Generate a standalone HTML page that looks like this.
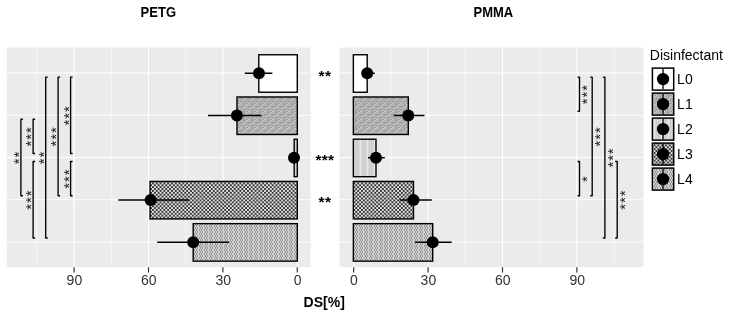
<!DOCTYPE html><html><head><meta charset="utf-8"><style>html,body{margin:0;padding:0;background:#fff;}svg{display:block;will-change:transform;}text{font-family:"Liberation Sans",sans-serif;}</style></head><body>
<svg width="729" height="315" viewBox="0 0 729 315">
<defs>
<pattern id="p1" width="8" height="8" patternUnits="userSpaceOnUse"><rect x="0" y="0" width="1" height="1" fill="#ababab"/><rect x="1" y="0" width="1" height="1" fill="#bbbbbb"/><rect x="2" y="0" width="1" height="1" fill="#acacac"/><rect x="3" y="0" width="1" height="1" fill="#aaaaaa"/><rect x="4" y="0" width="1" height="1" fill="#9e9e9e"/><rect x="5" y="0" width="1" height="1" fill="#acacac"/><rect x="6" y="0" width="1" height="1" fill="#c7c7c7"/><rect x="7" y="0" width="1" height="1" fill="#b9b9b9"/><rect x="0" y="1" width="1" height="1" fill="#c5c5c5"/><rect x="1" y="1" width="1" height="1" fill="#b5b5b5"/><rect x="2" y="1" width="1" height="1" fill="#b8b8b8"/><rect x="3" y="1" width="1" height="1" fill="#b4b4b4"/><rect x="4" y="1" width="1" height="1" fill="#8f8f8f"/><rect x="5" y="1" width="1" height="1" fill="#c2c2c2"/><rect x="6" y="1" width="1" height="1" fill="#bbbbbb"/><rect x="7" y="1" width="1" height="1" fill="#bababa"/><rect x="0" y="2" width="1" height="1" fill="#8f8f8f"/><rect x="1" y="2" width="1" height="1" fill="#8e8e8e"/><rect x="2" y="2" width="1" height="1" fill="#9f9f9f"/><rect x="3" y="2" width="1" height="1" fill="#a7a7a7"/><rect x="4" y="2" width="1" height="1" fill="#b7b7b7"/><rect x="5" y="2" width="1" height="1" fill="#b0b0b0"/><rect x="6" y="2" width="1" height="1" fill="#bbbbbb"/><rect x="7" y="2" width="1" height="1" fill="#a4a4a4"/><rect x="0" y="3" width="1" height="1" fill="#b7b7b7"/><rect x="1" y="3" width="1" height="1" fill="#b8b8b8"/><rect x="2" y="3" width="1" height="1" fill="#a3a3a3"/><rect x="3" y="3" width="1" height="1" fill="#d3d3d3"/><rect x="4" y="3" width="1" height="1" fill="#bcbcbc"/><rect x="5" y="3" width="1" height="1" fill="#c8c8c8"/><rect x="6" y="3" width="1" height="1" fill="#a4a4a4"/><rect x="7" y="3" width="1" height="1" fill="#a2a2a2"/><rect x="0" y="4" width="1" height="1" fill="#aaaaaa"/><rect x="1" y="4" width="1" height="1" fill="#aeaeae"/><rect x="2" y="4" width="1" height="1" fill="#bdbdbd"/><rect x="3" y="4" width="1" height="1" fill="#b5b5b5"/><rect x="4" y="4" width="1" height="1" fill="#a8a8a8"/><rect x="5" y="4" width="1" height="1" fill="#9d9d9d"/><rect x="6" y="4" width="1" height="1" fill="#a6a6a6"/><rect x="7" y="4" width="1" height="1" fill="#c9c9c9"/><rect x="0" y="5" width="1" height="1" fill="#a0a0a0"/><rect x="1" y="5" width="1" height="1" fill="#b5b5b5"/><rect x="2" y="5" width="1" height="1" fill="#b9b9b9"/><rect x="3" y="5" width="1" height="1" fill="#939393"/><rect x="4" y="5" width="1" height="1" fill="#b1b1b1"/><rect x="5" y="5" width="1" height="1" fill="#cbcbcb"/><rect x="6" y="5" width="1" height="1" fill="#888888"/><rect x="7" y="5" width="1" height="1" fill="#aaaaaa"/><rect x="0" y="6" width="1" height="1" fill="#aeaeae"/><rect x="1" y="6" width="1" height="1" fill="#a0a0a0"/><rect x="2" y="6" width="1" height="1" fill="#bababa"/><rect x="3" y="6" width="1" height="1" fill="#afafaf"/><rect x="4" y="6" width="1" height="1" fill="#939393"/><rect x="5" y="6" width="1" height="1" fill="#c1c1c1"/><rect x="6" y="6" width="1" height="1" fill="#bebebe"/><rect x="7" y="6" width="1" height="1" fill="#c3c3c3"/><rect x="0" y="7" width="1" height="1" fill="#cdcdcd"/><rect x="1" y="7" width="1" height="1" fill="#b8b8b8"/><rect x="2" y="7" width="1" height="1" fill="#b3b3b3"/><rect x="3" y="7" width="1" height="1" fill="#979797"/><rect x="4" y="7" width="1" height="1" fill="#bdbdbd"/><rect x="5" y="7" width="1" height="1" fill="#a4a4a4"/><rect x="6" y="7" width="1" height="1" fill="#a7a7a7"/><rect x="7" y="7" width="1" height="1" fill="#979797"/></pattern>
<pattern id="p2" width="7" height="4" patternUnits="userSpaceOnUse"><rect width="7" height="4" fill="#d6d6d6"/><rect x="0" width="1" height="4" fill="#c9c9c9"/><rect x="3" width="1" height="4" fill="#e8e8e8"/><rect x="5" width="1" height="4" fill="#cecece"/></pattern>
<pattern id="p3" width="3.8" height="3.8" patternUnits="userSpaceOnUse"><rect width="3.8" height="3.8" fill="#e4e4e4"/><rect x="0" y="0" width="1.9" height="1.9" fill="#363636"/><rect x="1.9" y="1.9" width="1.9" height="1.9" fill="#363636"/></pattern>
<pattern id="p4" width="5" height="4" patternUnits="userSpaceOnUse"><rect x="0" y="0" width="1" height="1" fill="#949494"/><rect x="1" y="0" width="1" height="1" fill="#d2d2d2"/><rect x="2" y="0" width="1" height="1" fill="#949494"/><rect x="3" y="0" width="1" height="1" fill="#d2d2d2"/><rect x="4" y="0" width="1" height="1" fill="#d2d2d2"/><rect x="0" y="1" width="1" height="1" fill="#d2d2d2"/><rect x="1" y="1" width="1" height="1" fill="#949494"/><rect x="2" y="1" width="1" height="1" fill="#d2d2d2"/><rect x="3" y="1" width="1" height="1" fill="#d2d2d2"/><rect x="4" y="1" width="1" height="1" fill="#949494"/><rect x="0" y="2" width="1" height="1" fill="#d2d2d2"/><rect x="1" y="2" width="1" height="1" fill="#949494"/><rect x="2" y="2" width="1" height="1" fill="#d2d2d2"/><rect x="3" y="2" width="1" height="1" fill="#d2d2d2"/><rect x="4" y="2" width="1" height="1" fill="#949494"/><rect x="0" y="3" width="1" height="1" fill="#949494"/><rect x="1" y="3" width="1" height="1" fill="#d2d2d2"/><rect x="2" y="3" width="1" height="1" fill="#949494"/><rect x="3" y="3" width="1" height="1" fill="#d2d2d2"/><rect x="4" y="3" width="1" height="1" fill="#d2d2d2"/></pattern>
</defs>
<rect x="6.7" y="47.6" width="303.90" height="219.65" fill="#ebebeb"/>
<line x1="260.10" y1="47.6" x2="260.10" y2="267.25" stroke="#fff" stroke-width="0.55"/>
<line x1="185.70" y1="47.6" x2="185.70" y2="267.25" stroke="#fff" stroke-width="0.55"/>
<line x1="111.30" y1="47.6" x2="111.30" y2="267.25" stroke="#fff" stroke-width="0.55"/>
<line x1="36.90" y1="47.6" x2="36.90" y2="267.25" stroke="#fff" stroke-width="0.55"/>
<line x1="297.30" y1="47.6" x2="297.30" y2="267.25" stroke="#fff" stroke-width="1.1"/>
<line x1="222.90" y1="47.6" x2="222.90" y2="267.25" stroke="#fff" stroke-width="1.1"/>
<line x1="148.50" y1="47.6" x2="148.50" y2="267.25" stroke="#fff" stroke-width="1.1"/>
<line x1="74.10" y1="47.6" x2="74.10" y2="267.25" stroke="#fff" stroke-width="1.1"/>
<line x1="6.7" y1="73.05" x2="310.6" y2="73.05" stroke="#fff" stroke-width="1.1"/>
<line x1="6.7" y1="115.28" x2="310.6" y2="115.28" stroke="#fff" stroke-width="1.1"/>
<line x1="6.7" y1="157.50" x2="310.6" y2="157.50" stroke="#fff" stroke-width="1.1"/>
<line x1="6.7" y1="199.73" x2="310.6" y2="199.73" stroke="#fff" stroke-width="1.1"/>
<line x1="6.7" y1="241.95" x2="310.6" y2="241.95" stroke="#fff" stroke-width="1.1"/>
<rect x="339.6" y="47.6" width="303.80" height="219.65" fill="#ebebeb"/>
<line x1="390.90" y1="47.6" x2="390.90" y2="267.25" stroke="#fff" stroke-width="0.55"/>
<line x1="465.30" y1="47.6" x2="465.30" y2="267.25" stroke="#fff" stroke-width="0.55"/>
<line x1="539.70" y1="47.6" x2="539.70" y2="267.25" stroke="#fff" stroke-width="0.55"/>
<line x1="614.10" y1="47.6" x2="614.10" y2="267.25" stroke="#fff" stroke-width="0.55"/>
<line x1="353.70" y1="47.6" x2="353.70" y2="267.25" stroke="#fff" stroke-width="1.1"/>
<line x1="428.10" y1="47.6" x2="428.10" y2="267.25" stroke="#fff" stroke-width="1.1"/>
<line x1="502.50" y1="47.6" x2="502.50" y2="267.25" stroke="#fff" stroke-width="1.1"/>
<line x1="576.90" y1="47.6" x2="576.90" y2="267.25" stroke="#fff" stroke-width="1.1"/>
<line x1="339.6" y1="73.05" x2="643.4" y2="73.05" stroke="#fff" stroke-width="1.1"/>
<line x1="339.6" y1="115.28" x2="643.4" y2="115.28" stroke="#fff" stroke-width="1.1"/>
<line x1="339.6" y1="157.50" x2="643.4" y2="157.50" stroke="#fff" stroke-width="1.1"/>
<line x1="339.6" y1="199.73" x2="643.4" y2="199.73" stroke="#fff" stroke-width="1.1"/>
<line x1="339.6" y1="241.95" x2="643.4" y2="241.95" stroke="#fff" stroke-width="1.1"/>
<rect x="258.8" y="54.75" width="38.50" height="37.5" fill="#ffffff" stroke="#000" stroke-width="1.4"/>
<rect x="237.0" y="96.98" width="60.30" height="37.5" fill="url(#p1)" stroke="#000" stroke-width="1.4"/>
<rect x="294.2" y="139.20" width="3.10" height="37.5" fill="url(#p2)" stroke="#000" stroke-width="1.4"/>
<rect x="150.1" y="181.43" width="147.20" height="37.5" fill="url(#p3)" stroke="#000" stroke-width="1.4"/>
<rect x="193.2" y="223.65" width="104.10" height="37.5" fill="url(#p4)" stroke="#000" stroke-width="1.4"/>
<rect x="353.35" y="54.75" width="13.85" height="37.5" fill="#ffffff" stroke="#000" stroke-width="1.4"/>
<rect x="353.35" y="96.98" width="54.95" height="37.5" fill="url(#p1)" stroke="#000" stroke-width="1.4"/>
<rect x="353.35" y="139.20" width="22.65" height="37.5" fill="url(#p2)" stroke="#000" stroke-width="1.4"/>
<rect x="353.35" y="181.43" width="60.15" height="37.5" fill="url(#p3)" stroke="#000" stroke-width="1.4"/>
<rect x="353.35" y="223.65" width="79.35" height="37.5" fill="url(#p4)" stroke="#000" stroke-width="1.4"/>
<line x1="244.8" y1="73.25" x2="272.4" y2="73.25" stroke="#000" stroke-width="1.5"/>
<circle cx="259.0" cy="73.25" r="6.0" fill="#000"/>
<line x1="207.9" y1="115.48" x2="261.5" y2="115.48" stroke="#000" stroke-width="1.5"/>
<circle cx="236.9" cy="115.48" r="6.0" fill="#000"/>
<line x1="292" y1="157.70" x2="296" y2="157.70" stroke="#000" stroke-width="1.5"/>
<circle cx="294.0" cy="157.70" r="6.0" fill="#000"/>
<line x1="118.4" y1="199.93" x2="189.0" y2="199.93" stroke="#000" stroke-width="1.5"/>
<circle cx="150.6" cy="199.93" r="6.0" fill="#000"/>
<line x1="157.2" y1="242.15" x2="229.0" y2="242.15" stroke="#000" stroke-width="1.5"/>
<circle cx="193.2" cy="242.15" r="6.0" fill="#000"/>
<line x1="362.0" y1="73.25" x2="374.8" y2="73.25" stroke="#000" stroke-width="1.5"/>
<circle cx="367.2" cy="73.25" r="6.0" fill="#000"/>
<line x1="393.8" y1="115.48" x2="424.5" y2="115.48" stroke="#000" stroke-width="1.5"/>
<circle cx="408.3" cy="115.48" r="6.0" fill="#000"/>
<line x1="368" y1="157.70" x2="384.8" y2="157.70" stroke="#000" stroke-width="1.5"/>
<circle cx="376.0" cy="157.70" r="6.0" fill="#000"/>
<line x1="399.6" y1="199.93" x2="431.8" y2="199.93" stroke="#000" stroke-width="1.5"/>
<circle cx="413.5" cy="199.93" r="6.0" fill="#000"/>
<line x1="415.1" y1="242.15" x2="451.7" y2="242.15" stroke="#000" stroke-width="1.5"/>
<circle cx="432.7" cy="242.15" r="6.0" fill="#000"/>
<path d="M72.60 77.05 H70.60 V153.50 H72.60" stroke="#000" stroke-width="1.35" stroke-linejoin="round" fill="none"/>
<text x="0" y="0" transform="translate(68.30,115.28) rotate(-90)" text-anchor="middle" dominant-baseline="central" font-size="15" letter-spacing="0.9" fill="#1a1a1a">***</text>
<path d="M72.60 161.50 H70.60 V195.73 H72.60" stroke="#000" stroke-width="1.35" stroke-linejoin="round" fill="none"/>
<text x="0" y="0" transform="translate(68.30,178.61) rotate(-90)" text-anchor="middle" dominant-baseline="central" font-size="15" letter-spacing="0.9" fill="#1a1a1a">***</text>
<path d="M60.10 77.05 H58.10 V195.73 H60.10" stroke="#000" stroke-width="1.35" stroke-linejoin="round" fill="none"/>
<text x="0" y="0" transform="translate(55.80,136.39) rotate(-90)" text-anchor="middle" dominant-baseline="central" font-size="15" letter-spacing="0.9" fill="#1a1a1a">***</text>
<path d="M47.70 77.05 H45.70 V237.95 H47.70" stroke="#000" stroke-width="1.35" stroke-linejoin="round" fill="none"/>
<text x="0" y="0" transform="translate(43.40,157.50) rotate(-90)" text-anchor="middle" dominant-baseline="central" font-size="15" letter-spacing="0.9" fill="#1a1a1a">**</text>
<path d="M35.10 119.28 H33.10 V153.50 H35.10" stroke="#000" stroke-width="1.35" stroke-linejoin="round" fill="none"/>
<text x="0" y="0" transform="translate(30.80,136.39) rotate(-90)" text-anchor="middle" dominant-baseline="central" font-size="15" letter-spacing="0.9" fill="#1a1a1a">***</text>
<path d="M35.10 161.50 H33.10 V237.95 H35.10" stroke="#000" stroke-width="1.35" stroke-linejoin="round" fill="none"/>
<text x="0" y="0" transform="translate(30.80,199.72) rotate(-90)" text-anchor="middle" dominant-baseline="central" font-size="15" letter-spacing="0.9" fill="#1a1a1a">***</text>
<path d="M22.90 119.28 H20.90 V195.73 H22.90" stroke="#000" stroke-width="1.35" stroke-linejoin="round" fill="none"/>
<text x="0" y="0" transform="translate(18.60,157.50) rotate(-90)" text-anchor="middle" dominant-baseline="central" font-size="15" letter-spacing="0.9" fill="#1a1a1a">**</text>
<path d="M577.50 77.05 H579.50 V111.28 H577.50" stroke="#000" stroke-width="1.35" stroke-linejoin="round" fill="none"/>
<text x="0" y="0" transform="translate(586.70,94.16) rotate(-90)" text-anchor="middle" dominant-baseline="central" font-size="15" letter-spacing="0.9" fill="#1a1a1a">***</text>
<path d="M577.50 161.50 H579.50 V195.73 H577.50" stroke="#000" stroke-width="1.35" stroke-linejoin="round" fill="none"/>
<text x="0" y="0" transform="translate(586.70,178.61) rotate(-90)" text-anchor="middle" dominant-baseline="central" font-size="15" letter-spacing="0.9" fill="#1a1a1a">*</text>
<path d="M590.20 77.05 H592.20 V195.73 H590.20" stroke="#000" stroke-width="1.35" stroke-linejoin="round" fill="none"/>
<text x="0" y="0" transform="translate(599.40,136.39) rotate(-90)" text-anchor="middle" dominant-baseline="central" font-size="15" letter-spacing="0.9" fill="#1a1a1a">***</text>
<path d="M602.90 77.05 H604.90 V237.95 H602.90" stroke="#000" stroke-width="1.35" stroke-linejoin="round" fill="none"/>
<text x="0" y="0" transform="translate(612.10,157.50) rotate(-90)" text-anchor="middle" dominant-baseline="central" font-size="15" letter-spacing="0.9" fill="#1a1a1a">***</text>
<path d="M615.20 161.50 H617.20 V237.95 H615.20" stroke="#000" stroke-width="1.35" stroke-linejoin="round" fill="none"/>
<text x="0" y="0" transform="translate(624.40,199.72) rotate(-90)" text-anchor="middle" dominant-baseline="central" font-size="15" letter-spacing="0.9" fill="#1a1a1a">***</text>
<text x="324.9" y="80.55" text-anchor="middle" font-size="15.5" font-weight="bold" letter-spacing="0.3" fill="#000">**</text>
<text x="324.9" y="165.00" text-anchor="middle" font-size="15.5" font-weight="bold" letter-spacing="0.3" fill="#000">***</text>
<text x="324.9" y="207.23" text-anchor="middle" font-size="15.5" font-weight="bold" letter-spacing="0.3" fill="#000">**</text>
<text x="158.3" y="17" text-anchor="middle" font-size="14.3" font-weight="bold" fill="#000" transform="translate(158.3 0) scale(0.91 1) translate(-158.3 0)">PETG</text>
<text x="493.4" y="17" text-anchor="middle" font-size="14.3" font-weight="bold" fill="#000" transform="translate(493.4 0) scale(0.91 1) translate(-493.4 0)">PMMA</text>
<line x1="297.30" y1="267.25" x2="297.30" y2="272.55" stroke="#333" stroke-width="1.2"/>
<text x="297.60" y="285.3" text-anchor="middle" font-size="14" fill="#333">0</text>
<line x1="222.90" y1="267.25" x2="222.90" y2="272.55" stroke="#333" stroke-width="1.2"/>
<text x="223.20" y="285.3" text-anchor="middle" font-size="14" fill="#333">30</text>
<line x1="148.50" y1="267.25" x2="148.50" y2="272.55" stroke="#333" stroke-width="1.2"/>
<text x="148.80" y="285.3" text-anchor="middle" font-size="14" fill="#333">60</text>
<line x1="74.10" y1="267.25" x2="74.10" y2="272.55" stroke="#333" stroke-width="1.2"/>
<text x="74.40" y="285.3" text-anchor="middle" font-size="14" fill="#333">90</text>
<line x1="353.70" y1="267.25" x2="353.70" y2="272.55" stroke="#333" stroke-width="1.2"/>
<text x="354.00" y="285.3" text-anchor="middle" font-size="14" fill="#333">0</text>
<line x1="428.10" y1="267.25" x2="428.10" y2="272.55" stroke="#333" stroke-width="1.2"/>
<text x="428.40" y="285.3" text-anchor="middle" font-size="14" fill="#333">30</text>
<line x1="502.50" y1="267.25" x2="502.50" y2="272.55" stroke="#333" stroke-width="1.2"/>
<text x="502.80" y="285.3" text-anchor="middle" font-size="14" fill="#333">60</text>
<line x1="576.90" y1="267.25" x2="576.90" y2="272.55" stroke="#333" stroke-width="1.2"/>
<text x="577.20" y="285.3" text-anchor="middle" font-size="14" fill="#333">90</text>
<text x="324.2" y="307.2" text-anchor="middle" font-size="14" font-weight="bold" fill="#000">DS[%]</text>
<text x="649.8" y="59.8" font-size="14" fill="#000">Disinfectant</text>
<rect x="652.4" y="68.10" width="21.3" height="22.0" fill="#ffffff" stroke="#000" stroke-width="1.5"/>
<line x1="663.05" y1="68.90" x2="663.05" y2="89.30" stroke="#000" stroke-width="1.3"/>
<circle cx="663.05" cy="79.10" r="6.2" fill="#000"/>
<text x="677.1" y="84.20" font-size="14" fill="#000">L0</text>
<rect x="652.4" y="93.10" width="21.3" height="22.0" fill="url(#p1)" stroke="#000" stroke-width="1.5"/>
<line x1="663.05" y1="93.90" x2="663.05" y2="114.30" stroke="#000" stroke-width="1.3"/>
<circle cx="663.05" cy="104.10" r="6.2" fill="#000"/>
<text x="677.1" y="109.20" font-size="14" fill="#000">L1</text>
<rect x="652.4" y="118.10" width="21.3" height="22.0" fill="url(#p2)" stroke="#000" stroke-width="1.5"/>
<line x1="663.05" y1="118.90" x2="663.05" y2="139.30" stroke="#000" stroke-width="1.3"/>
<circle cx="663.05" cy="129.10" r="6.2" fill="#000"/>
<text x="677.1" y="134.20" font-size="14" fill="#000">L2</text>
<rect x="652.4" y="143.10" width="21.3" height="22.0" fill="url(#p3)" stroke="#000" stroke-width="1.5"/>
<line x1="663.05" y1="143.90" x2="663.05" y2="164.30" stroke="#000" stroke-width="1.3"/>
<circle cx="663.05" cy="154.10" r="6.2" fill="#000"/>
<text x="677.1" y="159.20" font-size="14" fill="#000">L3</text>
<rect x="652.4" y="168.10" width="21.3" height="22.0" fill="url(#p4)" stroke="#000" stroke-width="1.5"/>
<line x1="663.05" y1="168.90" x2="663.05" y2="189.30" stroke="#000" stroke-width="1.3"/>
<circle cx="663.05" cy="179.10" r="6.2" fill="#000"/>
<text x="677.1" y="184.20" font-size="14" fill="#000">L4</text>
</svg></body></html>
